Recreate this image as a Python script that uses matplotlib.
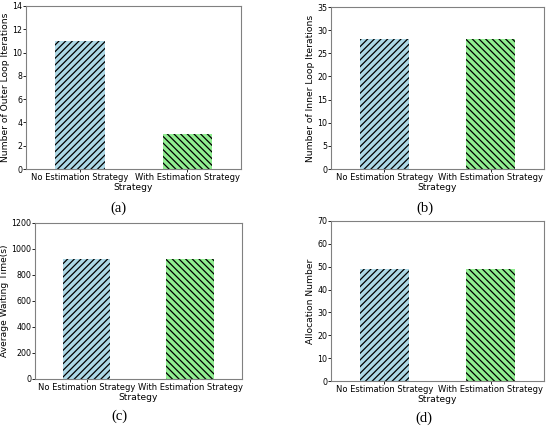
import numpy as np
import matplotlib.pyplot as plt

# --- DATA ---
strategies = ['No Estimation Strategy', 'With Estimation Strategy']
outer_iters = [11, 3]
inner_iters = [28, 28]
avg_wait = [920, 920]
alloc_num = [49, 49]

bar_colors = ['#add8e6', '#90ee90']
bar_hatches = ['/////', '\\\\\\\\\\']

plt.rcParams['hatch.linewidth'] = 0.9

fig = plt.figure(figsize=(5.5, 4.28), dpi=100)

# (axes rect, values, ylabel, ylim, yticks, caption, caption pos)
panels = [
    ([0.0473, 0.605, 0.391, 0.381], outer_iters, 'Number of Outer Loop Iterations',
     (0, 14), np.arange(0, 15, 2), '(a)', (0.216, 0.514)),
    ([0.6018, 0.605, 0.387, 0.3785], inner_iters, 'Number of Inner Loop Iterations',
     (0, 35), np.arange(0, 36, 5), '(b)', (0.773, 0.514)),
    ([0.0636, 0.1145, 0.376, 0.3645], avg_wait, 'Average Waiting Time(s)',
     (0, 1200), np.arange(0, 1201, 200), '(c)', (0.218, 0.027)),
    ([0.6018, 0.1098, 0.387, 0.374], alloc_num, 'Allocation Number',
     (0, 70), np.arange(0, 71, 10), '(d)', (0.771, 0.022)),
]

for rect, vals, ylabel, ylim, yticks, cap, cap_pos in panels:
    ax = fig.add_axes(rect)
    x = np.arange(len(strategies))
    for i in x:
        ax.bar(i, vals[i], width=0.46, color=bar_colors[i], hatch=bar_hatches[i],
               edgecolor='black', linewidth=0)
    ax.set_xlim(-0.5, 1.5)
    ax.set_ylim(*ylim)
    ax.set_yticks(yticks)
    ax.set_xticks(x)
    ax.set_xticklabels(strategies)
    ax.tick_params(labelsize=6, length=2, width=0.6, pad=0.8, colors='black')
    ax.tick_params(axis='y', labelsize=5.7, pad=0.5)
    ax.set_xlabel('Strategy', fontsize=6.6, labelpad=0.5)
    ax.set_ylabel(ylabel, fontsize=6.6, labelpad=1.5)
    for sp in ax.spines.values():
        sp.set_color('#808080')
        sp.set_linewidth(0.8)
    fig.text(cap_pos[0], cap_pos[1], cap, ha='center', va='center',
             family='Liberation Serif', fontsize=10.5)

fig.savefig('out.png', dpi=100)
